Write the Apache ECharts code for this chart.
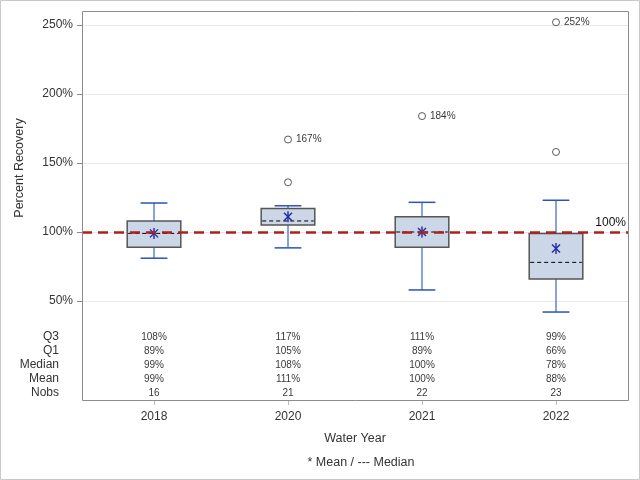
<!DOCTYPE html>
<html><head><meta charset="utf-8">
<script src="https://cdn.jsdelivr.net/npm/echarts@6/dist/echarts.min.js"></script>
<style>html,body{margin:0;padding:0;background:#fff}#c{width:640px;height:480px}</style>
</head><body><div id="c"></div>
<script>
// ---- data ----
const years = ['2018', '2020', '2021', '2022'];
const whiskerLow = [81, 88.5, 58, 42];
const q1 = [89, 105, 89, 66];
const median = [99, 108, 100, 78];
const q3 = [108, 117, 111, 99];
const whiskerHigh = [121, 119, 121.5, 123];
const mean = [99, 111, 100, 88];
const nobs = [16, 21, 22, 23];
const outlierYear = [1, 1, 2, 3, 3];
const outlierValue = [136, 167, 184, 158, 252];
const outlierLabeled = [false, true, true, false, true];
const tableRows = ['Q3', 'Q1', 'Median', 'Mean', 'Nobs'];
const referenceValue = 100;

const FONT = '"Liberation Sans", Arial, sans-serif';
const chart = echarts.init(document.getElementById('c'), null, {renderer: 'canvas'});

const boxData = years.map((y, i) => [i, whiskerLow[i], q1[i], median[i], q3[i], whiskerHigh[i]]);
const meanData = years.map((y, i) => [i, mean[i]]);
const outlierData = outlierValue.map((v, i) => ({value: [outlierYear[i], v], labeled: outlierLabeled[i]}));
const pct = v => Math.round(v) + '%';
const tableData = [];
years.forEach((y, i) => {
  tableData.push({value: [i, 0], txt: pct(q3[i])});
  tableData.push({value: [i, 1], txt: pct(q1[i])});
  tableData.push({value: [i, 2], txt: pct(median[i])});
  tableData.push({value: [i, 3], txt: pct(mean[i])});
  tableData.push({value: [i, 4], txt: String(nobs[i])});
});

function renderBox(params, api) {
  const x = api.value(0);
  const pLow = api.coord([x, api.value(1)]);
  const pQ1 = api.coord([x, api.value(2)]);
  const pMed = api.coord([x, api.value(3)]);
  const pQ3 = api.coord([x, api.value(4)]);
  const pHigh = api.coord([x, api.value(5)]);
  const bw = api.size([1, 0])[0] * 0.4;
  const cx = pQ1[0];
  const cap = bw / 4;
  const wStyle = {stroke: '#6283d2', lineWidth: 1.5};
  const cStyle = {stroke: '#2b54b8', lineWidth: 1.5};
  return {type: 'group', children: [
    {type: 'line', shape: {x1: cx, y1: pLow[1], x2: cx, y2: pQ1[1]}, style: wStyle},
    {type: 'line', shape: {x1: cx, y1: pQ3[1], x2: cx, y2: pHigh[1]}, style: wStyle},
    {type: 'line', shape: {x1: cx - cap, y1: pLow[1], x2: cx + cap, y2: pLow[1]}, style: cStyle},
    {type: 'line', shape: {x1: cx - cap, y1: pHigh[1], x2: cx + cap, y2: pHigh[1]}, style: cStyle},
    {type: 'rect', shape: {x: cx - bw / 2, y: pQ3[1], width: bw, height: pQ1[1] - pQ3[1]},
      style: {fill: '#cbd6e6', stroke: '#555555', lineWidth: 1.5}},
    {type: 'line', shape: {x1: cx - bw / 2 + 1, y1: pMed[1], x2: cx + bw / 2 - 1, y2: pMed[1]},
      style: {stroke: '#000', lineWidth: 1, lineDash: [4, 3]}}
  ]};
}
function renderMean(params, api) {
  const p = api.coord([api.value(0), api.value(1)]);
  const r = 5.5, d = 4;
  const st = {stroke: '#1f2aa6', lineWidth: 1.4};
  return {type: 'group', children: [
    {type: 'line', shape: {x1: p[0], y1: p[1] - r, x2: p[0], y2: p[1] + r}, style: st},
    {type: 'line', shape: {x1: p[0] - d, y1: p[1] - d, x2: p[0] + d, y2: p[1] + d}, style: st},
    {type: 'line', shape: {x1: p[0] - d, y1: p[1] + d, x2: p[0] + d, y2: p[1] - d}, style: st}
  ]};
}

const option = {
  animation: false,
  backgroundColor: '#fff',
  textStyle: {fontFamily: FONT},
  grid: [
    {left: 87, right: 17, top: 25, bottom: 179},   // boxes
    {left: 82, right: 12, top: 25, bottom: 179},   // background axis
    {left: 87, right: 17, top: 330, bottom: 80}    // table
  ],
  xAxis: [
    {gridIndex: 0, type: 'category', data: years, show: false},
    {gridIndex: 1, type: 'value', min: 0, max: 1, show: false},
    {gridIndex: 2, type: 'category', data: years, position: 'bottom',
      axisLine: {show: false},
      axisTick: {show: true, length: 5, alignWithLabel: true, lineStyle: {color: '#bbbbbb'}},
      axisLabel: {color: '#333', fontSize: 12, margin: 11, fontFamily: FONT},
      name: 'Water Year', nameLocation: 'middle', nameGap: 32,
      nameTextStyle: {color: '#333', fontSize: 12.5, fontFamily: FONT}}
  ],
  yAxis: [
    {gridIndex: 0, type: 'value', min: 50, max: 250, show: false},
    {gridIndex: 1, type: 'value', min: 50, max: 250, interval: 50,
      axisLine: {show: false},
      axisTick: {show: true, length: 5, lineStyle: {color: '#888'}},
      axisLabel: {formatter: '{value}%', color: '#333', fontSize: 12, margin: 9, fontFamily: FONT},
      splitLine: {show: true, lineStyle: {color: '#e8e8e8', width: 1}}},
    {gridIndex: 2, type: 'category', data: tableRows, inverse: true,
      axisLine: {show: false}, axisTick: {show: false},
      axisLabel: {interval: 0, color: '#333', fontSize: 12, margin: 28, fontFamily: FONT}}
  ],
  series: [
    {type: 'line', xAxisIndex: 1, yAxisIndex: 1, data: [], silent: true,
      markLine: {silent: true, symbol: ['none', 'none'],
        lineStyle: {color: '#b01e1e', type: [10, 6], width: 2.5},
        label: {show: true, position: 'insideEndTop', formatter: referenceValue + '%',
          color: '#111', fontSize: 12, fontFamily: FONT, distance: [2, 3]},
        data: [{yAxis: referenceValue}]}},
    {type: 'custom', xAxisIndex: 0, yAxisIndex: 0, data: boxData, renderItem: renderBox, z: 3, clip: false},
    {type: 'custom', xAxisIndex: 0, yAxisIndex: 0, data: meanData, renderItem: renderMean, z: 4, clip: false},
    {type: 'scatter', xAxisIndex: 0, yAxisIndex: 0, data: outlierData, clip: false, z: 4,
      symbol: 'circle', symbolSize: 7,
      itemStyle: {color: '#ffffff', borderColor: '#333', borderWidth: 1},
      label: {show: true, position: 'right', distance: 4, color: '#000', fontSize: 10, fontFamily: FONT,
        formatter: p => p.data.labeled ? pct(p.data.value[1]) : ''}},
    {type: 'scatter', xAxisIndex: 2, yAxisIndex: 2, data: tableData, symbolSize: 0,
      label: {show: true, position: 'inside', color: '#000', fontSize: 10, fontFamily: FONT,
        formatter: p => p.data.txt}}
  ],
  graphic: [
    {type: 'rect', shape: {x: 0.5, y: 0.5, width: 639, height: 479},
      style: {fill: 'none', stroke: '#c8c8c8', lineWidth: 1}, z: 10},
    {type: 'rect', shape: {x: 82.5, y: 11.5, width: 546, height: 389},
      style: {fill: 'none', stroke: '#8c8c8c', lineWidth: 1}, z: 10},
    {type: 'text', x: 20, y: 168, rotation: Math.PI / 2,
      style: {text: 'Percent Recovery', fill: '#333', font: '12.5px ' + FONT, textAlign: 'center', textVerticalAlign: 'middle'}},
    {type: 'text', x: 361, y: 463,
      style: {text: '* Mean / --- Median', fill: '#333', font: '12.5px ' + FONT, textAlign: 'center', textVerticalAlign: 'middle'}}
  ]
};
chart.setOption(option);
</script>
</body></html>
